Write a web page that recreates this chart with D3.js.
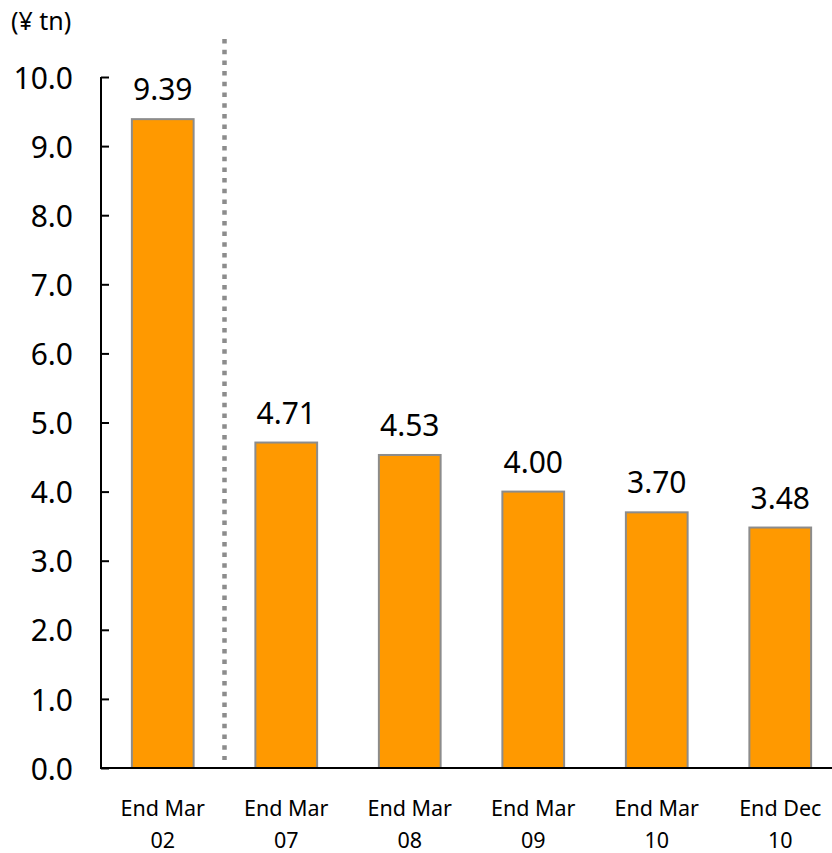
<!DOCTYPE html>
<html><head><meta charset="utf-8">
<script src="https://cdn.jsdelivr.net/npm/d3@7"></script>
<style>body{margin:0;background:#fff}svg{display:block}text{font-family:"Noto Sans",sans-serif;fill:#000}</style>
</head><body>
<svg id="c" width="832" height="853"></svg>
<script>
const categories = [["End Mar","02"],["End Mar","07"],["End Mar","08"],["End Mar","09"],["End Mar","10"],["End Dec","10"]];
const values = [9.39, 4.71, 4.53, 4.00, 3.70, 3.48];
const valueLabels = ["9.39","4.71","4.53","4.00","3.70","3.48"];
const yTicks = [0,1,2,3,4,5,6,7,8,9,10];
const unitLabel = "(¥ tn)";

const svg = d3.select("#c");
const x = d3.scaleBand().domain(d3.range(values.length)).range([101, 842]).paddingInner(0.5).paddingOuter(0.25);
const y = d3.scaleLinear().domain([0, 10]).range([768, 77]);

// bars
svg.append("g").selectAll("rect").data(values).join("rect")
  .attr("x", (d,i) => x(i)).attr("width", x.bandwidth())
  .attr("y", d => y(d)).attr("height", d => y(0) - y(d))
  .attr("fill", "#FF9900").attr("stroke", "#8c8c8c").attr("stroke-width", 2);

// value labels
svg.append("g").selectAll("text").data(values).join("text")
  .attr("x", (d,i) => x(i) + x.bandwidth()/2).attr("y", d => y(d) - 19)
  .attr("text-anchor", "middle").style("font-size", "30px").text((d,i) => valueLabels[i]);

// y axis
const yAxis = svg.append("g").attr("transform", "translate(101,0)")
  .call(d3.axisRight(y).tickValues(yTicks).tickSize(8).tickFormat(d => d3.format(".1f")(d)));
yAxis.select(".domain").attr("stroke", "#000").attr("stroke-width", 2).attr("d", `M0,${y(10)}V${y(0)}`);
yAxis.selectAll(".tick line").attr("stroke", "#000").attr("stroke-width", 2);
yAxis.selectAll(".tick text").attr("x", -28).attr("text-anchor", "end").attr("dy", "0.37em")
  .style("font-size", "30px").style("font-family", "'Noto Sans',sans-serif").attr("fill", "#000");

// x axis line
svg.append("line").attr("x1", 100).attr("x2", 832).attr("y1", y(0)).attr("y2", y(0))
  .attr("stroke", "#000").attr("stroke-width", 2);

// x labels
const xl = svg.append("g").selectAll("text").data(categories).join("text")
  .attr("x", (d,i) => x(i) + x.bandwidth()/2).attr("y", 816)
  .attr("text-anchor", "middle").style("font-size", "21.5px");
xl.append("tspan").text(d => d[0]);
xl.append("tspan").attr("x", (d,i) => x(i) + x.bandwidth()/2).attr("dy", 32).text(d => d[1]);

// divider
const divX = (x(0) + x.bandwidth() + x(1)) / 2;
svg.append("line").attr("x1", divX).attr("x2", divX).attr("y1", 39).attr("y2", 760)
  .attr("stroke", "#8c8c8c").attr("stroke-width", 4.5).attr("stroke-dasharray", "4.5,6.2");

// unit
svg.append("text").attr("x", 11).attr("y", 30).style("font-size", "25px").text(unitLabel);
</script>
</body></html>
